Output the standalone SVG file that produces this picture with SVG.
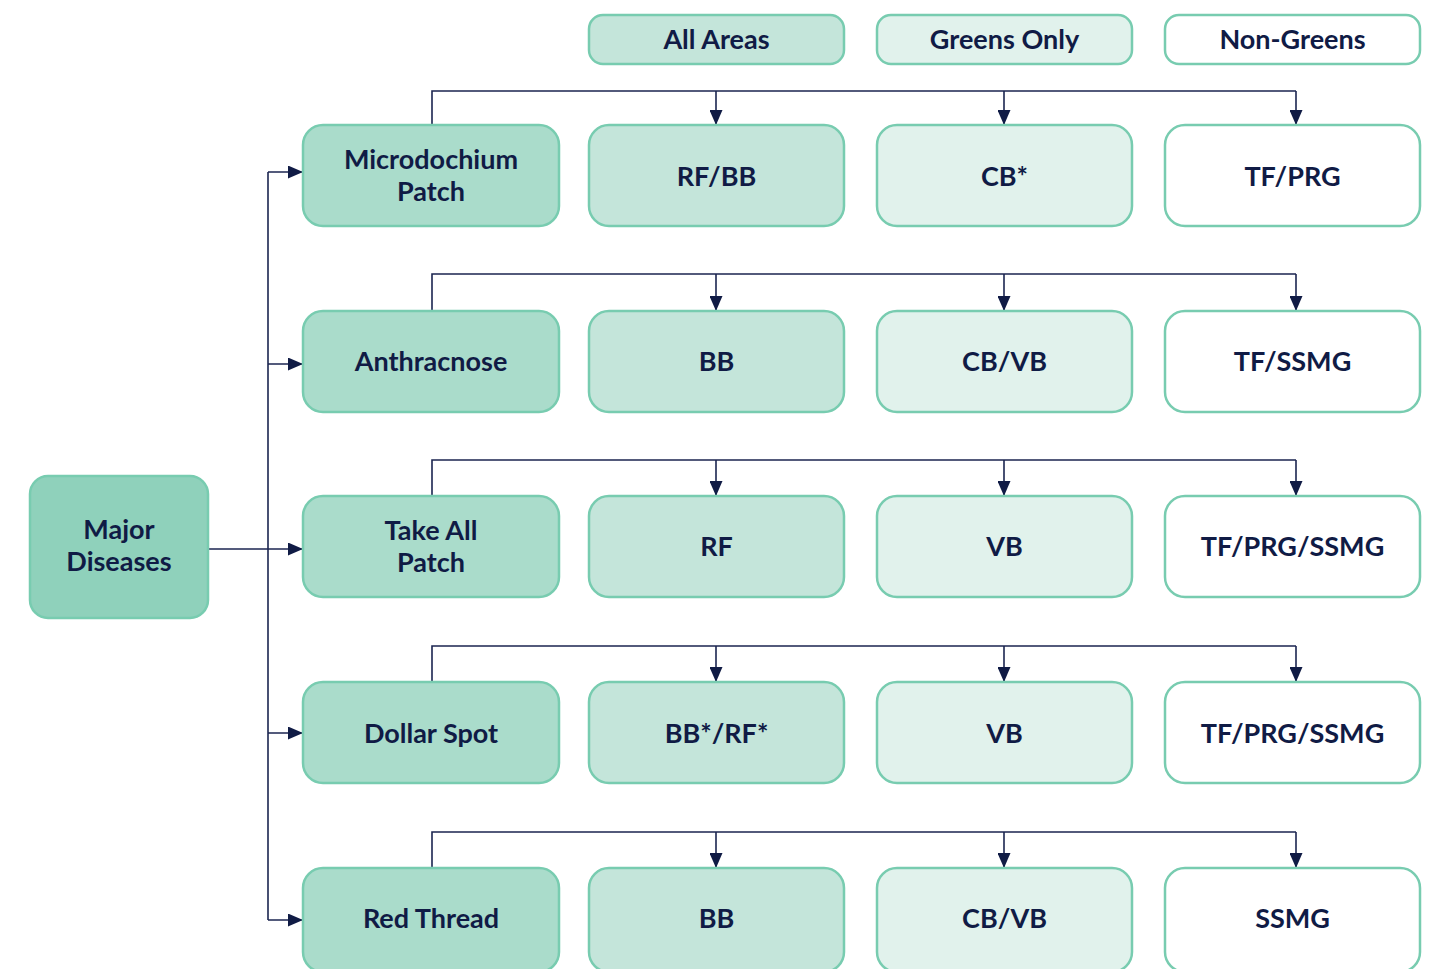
<svg xmlns="http://www.w3.org/2000/svg" width="1439" height="969" viewBox="0 0 1439 969">
  <style>
    .box { stroke: #78ccb0; stroke-width: 2.5; }
    .root { fill: #8fd1bb; }
    .dis { fill: #aadccb; }
    .all { fill: #c4e5da; }
    .grn { fill: #e1f2ec; }
    .non { fill: #ffffff; }
    .t { font-family: Lato, "Liberation Sans", sans-serif; font-weight: bold; font-size: 27px; fill: #101b45; text-anchor: middle; dominant-baseline: central; }
    .ln { fill: none; stroke: #1b2550; stroke-width: 1.6; }
  </style>
  <defs>
    <marker id="ah" markerWidth="15" markerHeight="13" refX="14" refY="6.5" orient="auto" markerUnits="userSpaceOnUse">
      <path d="M0,0 L15,6.5 L0,13 Z" fill="#101b45"/>
    </marker>
  </defs>
  <rect width="1439" height="969" fill="#ffffff"/>

  <!-- column headers -->
  <g id="hdr-all"><rect class="box all" x="589" y="15" width="255" height="49" rx="14"/><text class="t" x="716.5" y="38">All Areas</text></g>
  <g id="hdr-greens"><rect class="box grn" x="877" y="15" width="255" height="49" rx="14"/><text class="t" x="1004.5" y="38">Greens Only</text></g>
  <g id="hdr-non"><rect class="box non" x="1165" y="15" width="255" height="49" rx="14"/><text class="t" x="1292.5" y="38">Non-Greens</text></g>

  <!-- connectors -->
  <g id="connectors">
    <path class="ln" d="M208,549 H302" marker-end="url(#ah)"/>
    <path class="ln" d="M268,172 V920"/>
    <path class="ln" d="M268,172 H302" marker-end="url(#ah)"/>
    <path class="ln" d="M268,364 H302" marker-end="url(#ah)"/>
    <path class="ln" d="M268,733 H302" marker-end="url(#ah)"/>
    <path class="ln" d="M268,920 H302" marker-end="url(#ah)"/>

    <path class="ln" d="M432,125 V91 H1296"/>
    <path class="ln" d="M716,91 V124" marker-end="url(#ah)"/>
    <path class="ln" d="M1004,91 V124" marker-end="url(#ah)"/>
    <path class="ln" d="M1296,91 V124" marker-end="url(#ah)"/>

    <path class="ln" d="M432,311 V274 H1296"/>
    <path class="ln" d="M716,274 V310" marker-end="url(#ah)"/>
    <path class="ln" d="M1004,274 V310" marker-end="url(#ah)"/>
    <path class="ln" d="M1296,274 V310" marker-end="url(#ah)"/>

    <path class="ln" d="M432,496 V460 H1296"/>
    <path class="ln" d="M716,460 V495" marker-end="url(#ah)"/>
    <path class="ln" d="M1004,460 V495" marker-end="url(#ah)"/>
    <path class="ln" d="M1296,460 V495" marker-end="url(#ah)"/>

    <path class="ln" d="M432,682 V646 H1296"/>
    <path class="ln" d="M716,646 V681" marker-end="url(#ah)"/>
    <path class="ln" d="M1004,646 V681" marker-end="url(#ah)"/>
    <path class="ln" d="M1296,646 V681" marker-end="url(#ah)"/>

    <path class="ln" d="M432,868 V832 H1296"/>
    <path class="ln" d="M716,832 V867" marker-end="url(#ah)"/>
    <path class="ln" d="M1004,832 V867" marker-end="url(#ah)"/>
    <path class="ln" d="M1296,832 V867" marker-end="url(#ah)"/>
  </g>

  <!-- root -->
  <g id="major"><rect class="box root" x="30" y="476" width="178" height="142" rx="18"/><text class="t" x="119" y="528">Major</text><text class="t" x="119" y="560">Diseases</text></g>

  <!-- row 1 -->
  <g id="microdochium"><rect class="box dis" x="303" y="125" width="256" height="101" rx="20"/><text class="t" x="431" y="158">Microdochium</text><text class="t" x="431" y="190">Patch</text></g>
  <g id="r1-all"><rect class="box all" x="589" y="125" width="255" height="101" rx="20"/><text class="t" x="716.5" y="175">RF/BB</text></g>
  <g id="r1-greens"><rect class="box grn" x="877" y="125" width="255" height="101" rx="20"/><text class="t" x="1004.5" y="175">CB*</text></g>
  <g id="r1-non"><rect class="box non" x="1165" y="125" width="255" height="101" rx="20"/><text class="t" x="1292.5" y="175">TF/PRG</text></g>

  <!-- row 2 -->
  <g id="anthracnose"><rect class="box dis" x="303" y="311" width="256" height="101" rx="20"/><text class="t" x="431" y="360">Anthracnose</text></g>
  <g id="r2-all"><rect class="box all" x="589" y="311" width="255" height="101" rx="20"/><text class="t" x="716.5" y="360">BB</text></g>
  <g id="r2-greens"><rect class="box grn" x="877" y="311" width="255" height="101" rx="20"/><text class="t" x="1004.5" y="360">CB/VB</text></g>
  <g id="r2-non"><rect class="box non" x="1165" y="311" width="255" height="101" rx="20"/><text class="t" x="1292.5" y="360">TF/SSMG</text></g>

  <!-- row 3 -->
  <g id="take-all"><rect class="box dis" x="303" y="496" width="256" height="101" rx="20"/><text class="t" x="431" y="529">Take All</text><text class="t" x="431" y="561">Patch</text></g>
  <g id="r3-all"><rect class="box all" x="589" y="496" width="255" height="101" rx="20"/><text class="t" x="716.5" y="545">RF</text></g>
  <g id="r3-greens"><rect class="box grn" x="877" y="496" width="255" height="101" rx="20"/><text class="t" x="1004.5" y="545">VB</text></g>
  <g id="r3-non"><rect class="box non" x="1165" y="496" width="255" height="101" rx="20"/><text class="t" x="1292.5" y="545">TF/PRG/SSMG</text></g>

  <!-- row 4 -->
  <g id="dollar-spot"><rect class="box dis" x="303" y="682" width="256" height="101" rx="20"/><text class="t" x="431" y="732">Dollar Spot</text></g>
  <g id="r4-all"><rect class="box all" x="589" y="682" width="255" height="101" rx="20"/><text class="t" x="716.5" y="732">BB*/RF*</text></g>
  <g id="r4-greens"><rect class="box grn" x="877" y="682" width="255" height="101" rx="20"/><text class="t" x="1004.5" y="732">VB</text></g>
  <g id="r4-non"><rect class="box non" x="1165" y="682" width="255" height="101" rx="20"/><text class="t" x="1292.5" y="732">TF/PRG/SSMG</text></g>

  <!-- row 5 -->
  <g id="red-thread"><rect class="box dis" x="303" y="868" width="256" height="104" rx="20"/><text class="t" x="431" y="917">Red Thread</text></g>
  <g id="r5-all"><rect class="box all" x="589" y="868" width="255" height="104" rx="20"/><text class="t" x="716.5" y="917">BB</text></g>
  <g id="r5-greens"><rect class="box grn" x="877" y="868" width="255" height="104" rx="20"/><text class="t" x="1004.5" y="917">CB/VB</text></g>
  <g id="r5-non"><rect class="box non" x="1165" y="868" width="255" height="104" rx="20"/><text class="t" x="1292.5" y="917">SSMG</text></g>
</svg>
